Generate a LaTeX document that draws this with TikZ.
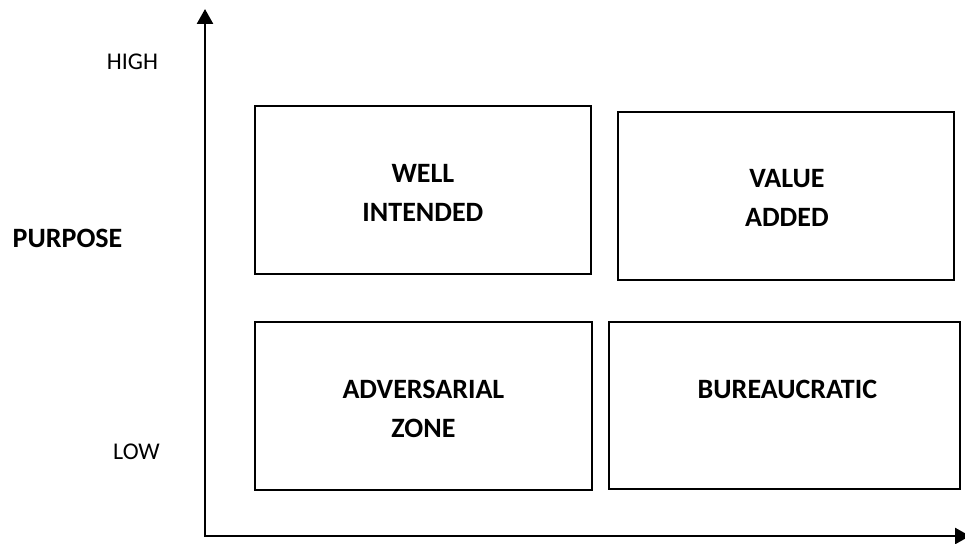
\documentclass[tikz,border=0pt]{standalone}
\usepackage{fontspec}
\setmainfont{Carlito}
\usetikzlibrary{arrows.meta,calc}
\tikzset{
  quadbox/.style={draw=black, line width=1.8pt, rectangle, inner sep=0pt},
  boxlab/.style={font=\fontsize{28}{34}\selectfont\bfseries, anchor=base, inner sep=0pt},
  axlab/.style={font=\fontsize{24}{29}\selectfont, anchor=base, inner sep=0pt},
  axisline/.style={line width=2.6pt, line join=miter,
    {Triangle[length=15pt,width=16pt]}-{Triangle[length=15pt,width=16pt]}}
}
\begin{document}
\begin{tikzpicture}[x=1pt,y=-1pt]
\useasboundingbox (0,0) rectangle (965,543);
% axes
\coordinate (o) at (205,536);
\coordinate (t) at (205,9);
\coordinate (r) at (970,536);
\draw[axisline] (t) -- (o) -- (r);
% axis labels
\node[axlab] (high) at (132.5,70) {HIGH};
\node[axlab] (low) at (136.5,459) {LOW};
\node[boxlab] (purpose) at (67.5,247) {PURPOSE};
% boxes
\node[quadbox, anchor=north west, minimum width=336pt, minimum height=168pt] (wi) at (254,105) {};
\node[quadbox, anchor=north west, minimum width=336pt, minimum height=168pt] (va) at (617,111) {};
\node[quadbox, anchor=north west, minimum width=337pt, minimum height=168pt] (ad) at (254,321) {};
\node[quadbox, anchor=north west, minimum width=351pt, minimum height=167pt] (bu) at (608,321) {};
% box texts
\node[boxlab] (wi1) at ($(wi.north)+(0,77)$) {WELL};
\node[boxlab] (wi2) at ($(wi.north)+(0,116)$) {INTENDED};
\node[boxlab] (va1) at ($(va.north)+(1,76)$) {VALUE};
\node[boxlab] (va2) at ($(va.north)+(1,115)$) {ADDED};
\node[boxlab] (ad1) at ($(ad.north)+(0,77)$) {ADVERSARIAL};
\node[boxlab] (ad2) at ($(ad.north)+(0,116)$) {ZONE};
\node[boxlab] (bu1) at ($(bu.north)+(3,77)$) {BUREAUCRATIC};
\end{tikzpicture}
\end{document}
